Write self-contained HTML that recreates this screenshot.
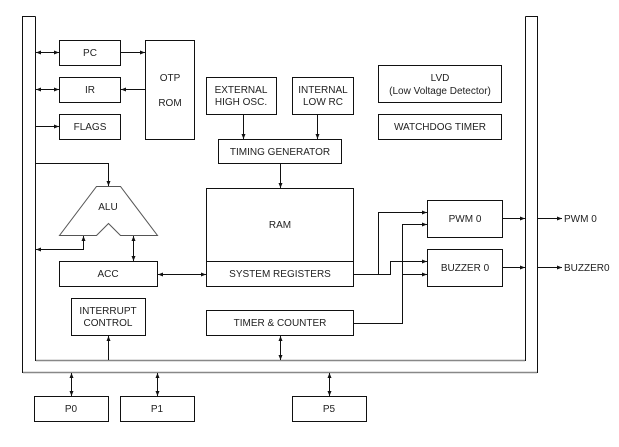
<!DOCTYPE html>
<html><head><meta charset="utf-8"><style>
html,body{margin:0;padding:0;background:#fff;}
svg{display:block;}
text{font-family:"Liberation Sans",Arial,sans-serif;font-size:10px;fill:#222;text-anchor:middle;}
.b{fill:none;stroke:#111;stroke-width:1;}
.l{fill:none;stroke:#111;stroke-width:1;}
.g{fill:none;stroke:#888;stroke-width:1.5;}
</style></head><body>
<svg width="619" height="447" viewBox="0 0 619 447" xmlns="http://www.w3.org/2000/svg">
<defs>
<marker id="a" markerWidth="6" markerHeight="6" refX="5" refY="3" orient="auto" markerUnits="userSpaceOnUse"><path d="M0,1 L5,3 L0,5 z" fill="#111"/></marker>
<marker id="s" markerWidth="6" markerHeight="6" refX="0" refY="3" orient="auto" markerUnits="userSpaceOnUse"><path d="M5,1 L0,3 L5,5 z" fill="#111"/></marker>
</defs>
<!-- frames -->
<path d="M35.5,16.5 L22.5,16.5 L22.5,372.5 L537.5,372.5 L537.5,16.5 L525.5,16.5" class="l"/>
<path d="M35.5,16.5 L35.5,360.5 L525.5,360.5 L525.5,16.5" class="l"/>
<line x1="36" y1="360.5" x2="525" y2="360.5" class="g"/>
<line x1="23" y1="372.5" x2="537" y2="372.5" class="g"/>
<!-- boxes -->
<rect x="59.5" y="40.5" width="61" height="25" class="b"/><text x="90" y="56">PC</text>
<rect x="59.5" y="77.5" width="61" height="25" class="b"/><text x="90" y="93">IR</text>
<rect x="59.5" y="114.5" width="61" height="25" class="b"/><text x="90" y="130">FLAGS</text>
<rect x="145.5" y="40.5" width="49" height="99" class="b"/><text x="170" y="81">OTP</text><text x="170" y="106">ROM</text>
<rect x="206.5" y="77.5" width="70" height="37" class="b"/><text x="241" y="93">EXTERNAL</text><text x="241" y="105">HIGH OSC.</text>
<rect x="292.5" y="77.5" width="61" height="37" class="b"/><text x="323" y="93">INTERNAL</text><text x="323" y="105">LOW RC</text>
<rect x="218.5" y="139.5" width="123" height="24" class="b"/><text x="280" y="155">TIMING GENERATOR</text>
<rect x="378.5" y="65.5" width="123" height="37" class="b"/><text x="440" y="81">LVD</text><text x="440" y="94">(Low Voltage Detector)</text>
<rect x="378.5" y="114.5" width="123" height="25" class="b"/><text x="440" y="130">WATCHDOG TIMER</text>
<rect x="206.5" y="188.5" width="147" height="98" class="b"/><line x1="206" y1="261.5" x2="353" y2="261.5" class="l"/>
<text x="280" y="228">RAM</text><text x="280" y="277">SYSTEM REGISTERS</text>
<path d="M96.5,186.5 L120.5,186.5 L157.5,235.5 L120.5,235.5 L108.5,223.5 L96.5,235.5 L59.5,235.5 Z" fill="none" stroke="#555" stroke-width="1"/>
<text x="108" y="210">ALU</text>
<rect x="59.5" y="261.5" width="98" height="25" class="b"/><text x="108" y="277">ACC</text>
<rect x="71.5" y="298.5" width="74" height="37" class="b"/><text x="108" y="314">INTERRUPT</text><text x="108" y="326">CONTROL</text>
<rect x="206.5" y="310.5" width="147" height="25" class="b"/><text x="280" y="326">TIMER &amp; COUNTER</text>
<rect x="427.5" y="200.5" width="75" height="37" class="b"/><text x="465" y="222">PWM 0</text>
<rect x="427.5" y="249.5" width="75" height="37" class="b"/><text x="465" y="271">BUZZER 0</text>
<rect x="34.5" y="396.5" width="74" height="25" class="b"/><text x="71" y="412">P0</text>
<rect x="120.5" y="396.5" width="74" height="25" class="b"/><text x="157" y="412">P1</text>
<rect x="292.5" y="396.5" width="74" height="25" class="b"/><text x="329" y="412">P5</text>
<!-- connectors -->
<line x1="36" y1="52.5" x2="59" y2="52.5" class="l" marker-start="url(#s)" marker-end="url(#a)"/>
<line x1="36" y1="89.5" x2="59" y2="89.5" class="l" marker-start="url(#s)" marker-end="url(#a)"/>
<line x1="36" y1="126.5" x2="59" y2="126.5" class="l" marker-end="url(#a)"/>
<line x1="121" y1="52.5" x2="145" y2="52.5" class="l" marker-end="url(#a)"/>
<line x1="145" y1="89.5" x2="121" y2="89.5" class="l" marker-end="url(#a)"/>
<line x1="243.5" y1="115" x2="243.5" y2="139" class="l" marker-end="url(#a)"/>
<line x1="317.5" y1="115" x2="317.5" y2="139" class="l" marker-end="url(#a)"/>
<line x1="280.5" y1="164" x2="280.5" y2="188" class="l" marker-end="url(#a)"/>
<path d="M36,163.5 L108.5,163.5 L108.5,186" class="l" marker-end="url(#a)"/>
<path d="M83.5,236 L83.5,249.5 L36,249.5" class="l" marker-start="url(#s)" marker-end="url(#a)"/>
<line x1="133.5" y1="236" x2="133.5" y2="261" class="l" marker-start="url(#s)" marker-end="url(#a)"/>
<line x1="158" y1="274.5" x2="206" y2="274.5" class="l" marker-start="url(#s)" marker-end="url(#a)"/>
<line x1="108.5" y1="360" x2="108.5" y2="336" class="l" marker-end="url(#a)"/>
<line x1="280.5" y1="336" x2="280.5" y2="360" class="l" marker-start="url(#s)" marker-end="url(#a)"/>
<line x1="71.5" y1="373" x2="71.5" y2="396" class="l" marker-start="url(#s)" marker-end="url(#a)"/>
<line x1="157.5" y1="373" x2="157.5" y2="396" class="l" marker-start="url(#s)" marker-end="url(#a)"/>
<line x1="329.5" y1="373" x2="329.5" y2="396" class="l" marker-start="url(#s)" marker-end="url(#a)"/>
<path d="M354,274.5 L378.5,274.5 L378.5,212.5 L427,212.5" class="l" marker-end="url(#a)"/>
<path d="M378.5,274.5 L390.5,274.5 L390.5,261.5 L427,261.5" class="l" marker-end="url(#a)"/>
<path d="M354,323.5 L402.5,323.5 L402.5,224.5 L427,224.5" class="l" marker-end="url(#a)"/>
<line x1="402.5" y1="274.5" x2="427" y2="274.5" class="l" marker-end="url(#a)"/>
<line x1="503" y1="218.5" x2="525" y2="218.5" class="l" marker-end="url(#a)"/>
<line x1="503" y1="267.5" x2="525" y2="267.5" class="l" marker-end="url(#a)"/>
<line x1="538" y1="218.5" x2="562" y2="218.5" class="l" marker-end="url(#a)"/>
<line x1="538" y1="267.5" x2="562" y2="267.5" class="l" marker-end="url(#a)"/>
<text x="564" y="222" style="text-anchor:start">PWM 0</text>
<text x="564" y="271" style="text-anchor:start">BUZZER0</text>
</svg>
</body></html>
